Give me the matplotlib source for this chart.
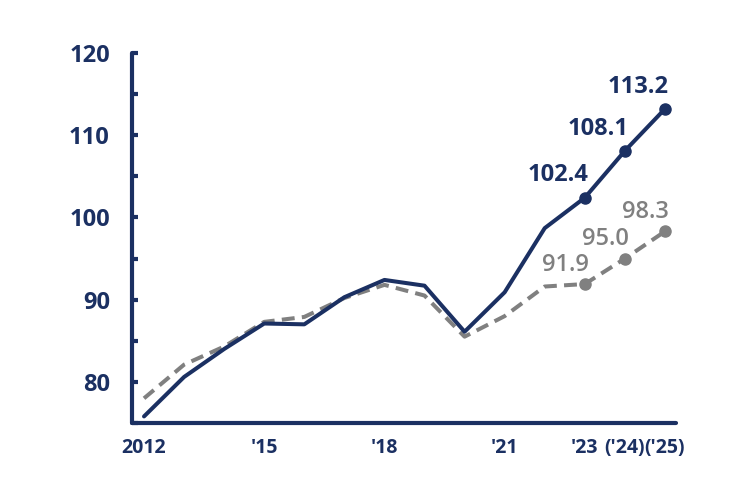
import matplotlib
matplotlib.use("Agg")
import matplotlib.pyplot as plt
from matplotlib.ticker import MultipleLocator, FuncFormatter

years = [2012, 2013, 2014, 2015, 2016, 2017, 2018, 2019, 2020, 2021, 2022, 2023, 2024, 2025]
solid_vals = [75.8, 80.6, 84.0, 87.1, 87.0, 90.3, 92.4, 91.7, 86.1, 90.9, 98.7, 102.4, 108.1, 113.2]
dashed_vals = [78.0, 82.1, 84.3, 87.3, 87.9, 90.2, 91.8, 90.5, 85.5, 88.0, 91.6, 91.9, 95.0, 98.3]
label_years = [2023, 2024, 2025]
x_ticks = [2012, 2015, 2018, 2021, 2023, 2024, 2025]
x_ticklabels = ["2012", "'15", "'18", "'21", "'23", "('24)", "('25)"]

NAVY = "#1b3062"
GRAY = "#808080"

plt.rcParams['font.family'] = ['Open Sans', 'DejaVu Sans']

fig = plt.figure(figsize=(7.5, 5), dpi=100)
ax = fig.add_axes([0.176, 0.154, 0.725, 0.74])

ax.plot(years, dashed_vals, color=GRAY, lw=2.9, linestyle=(0, (3.2, 1.8)),
        dash_capstyle='butt', zorder=2)
ax.plot(years, solid_vals, color=NAVY, lw=2.9, solid_joinstyle='round',
        solid_capstyle='round', zorder=3)

for y in label_years:
    i = years.index(y)
    ax.plot(years[i], solid_vals[i], 'o', color=NAVY, ms=8, zorder=4)
    ax.plot(years[i], dashed_vals[i], 'o', color=GRAY, ms=8, zorder=4)
    ax.annotate(f"{solid_vals[i]:.1f}", (years[i], solid_vals[i]),
                xytext=(-19.5, 16), textcoords='offset points',
                ha='center', va='center', fontsize=17, fontweight='bold', color=NAVY)
    ax.annotate(f"{dashed_vals[i]:.1f}", (years[i], dashed_vals[i]),
                xytext=(-14, 14), textcoords='offset points',
                ha='center', va='center', fontsize=17, fontweight='semibold', color=GRAY)

ax.set_xlim(2011.7, 2025.27)
ax.set_ylim(75, 120)

ax.yaxis.set_major_locator(MultipleLocator(5))
ax.yaxis.set_major_formatter(FuncFormatter(lambda v, p: f"{int(round(v))}" if round(v) % 10 == 0 else ""))
ax.set_xticks(x_ticks)
ax.set_xticklabels(x_ticklabels)

for s in ['top', 'right']:
    ax.spines[s].set_visible(False)
for s in ['left', 'bottom']:
    ax.spines[s].set_color(NAVY)
    ax.spines[s].set_linewidth(3)
    ax.spines[s].set_capstyle('round')

ax.tick_params(axis='y', direction='in', length=4, width=3, color=NAVY,
               labelsize=17, labelcolor=NAVY, pad=16)
ax.tick_params(axis='x', length=0, labelsize=14, labelcolor=NAVY, pad=11)
for lbl in ax.get_yticklabels() + ax.get_xticklabels():
    lbl.set_fontweight('bold')

fig.savefig("out.png", dpi=100)
